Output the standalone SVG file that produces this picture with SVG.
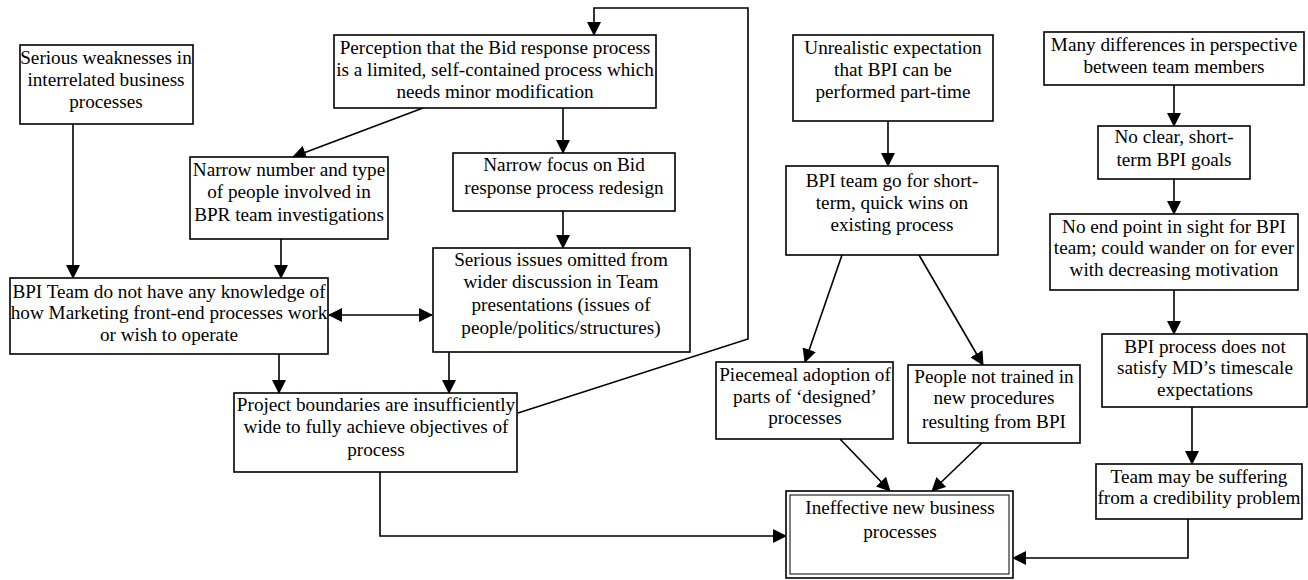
<svg xmlns="http://www.w3.org/2000/svg" width="1308" height="580" viewBox="0 0 1308 580">
  <style>
    .box { fill: #ffffff; stroke: #000000; stroke-width: 1.6; }
    .thin { fill: none; stroke: #000000; stroke-width: 1; }
    .lbl { font-family: "Liberation Serif", "Times New Roman", serif; font-size: 19.2px; fill: #000000; text-anchor: middle; }
    .edge { fill: none; stroke: #000000; stroke-width: 1.6; }
  </style>
  <defs>
    <marker id="arrow" viewBox="0 0 14 14" refX="13" refY="7" markerWidth="14" markerHeight="14" markerUnits="userSpaceOnUse" orient="auto-start-reverse">
      <path d="M0,0 L14,7 L0,14 Z" fill="#000000"/>
    </marker>
  </defs>
  <rect width="1308" height="580" fill="#ffffff"/>

  <!-- connectors -->
  <g id="connectors">
    <line class="edge" x1="73" y1="124" x2="73" y2="278" marker-end="url(#arrow)"/>
    <line class="edge" x1="423" y1="108" x2="293" y2="157" marker-end="url(#arrow)"/>
    <line class="edge" x1="563" y1="108" x2="563" y2="153" marker-end="url(#arrow)"/>
    <line class="edge" x1="281" y1="239" x2="281" y2="278" marker-end="url(#arrow)"/>
    <line class="edge" x1="563" y1="211" x2="563" y2="248" marker-end="url(#arrow)"/>
    <line class="edge" x1="329" y1="315" x2="432" y2="315" marker-start="url(#arrow)" marker-end="url(#arrow)"/>
    <line class="edge" x1="279" y1="354" x2="279" y2="393" marker-end="url(#arrow)"/>
    <line class="edge" x1="449" y1="352" x2="449" y2="393" marker-end="url(#arrow)"/>
    <polyline class="edge" points="518,413 748,339 748,8 594,8 594,35" marker-end="url(#arrow)"/>
    <polyline class="edge" points="380,472 380,536 786,536" marker-end="url(#arrow)"/>
    <line class="edge" x1="888" y1="121" x2="888" y2="166" marker-end="url(#arrow)"/>
    <line class="edge" x1="842" y1="255" x2="805" y2="362" marker-end="url(#arrow)"/>
    <line class="edge" x1="919" y1="255" x2="983" y2="365" marker-end="url(#arrow)"/>
    <line class="edge" x1="840" y1="439" x2="890" y2="491" marker-end="url(#arrow)"/>
    <line class="edge" x1="982" y1="443" x2="932" y2="491" marker-end="url(#arrow)"/>
    <line class="edge" x1="1174" y1="85" x2="1174" y2="126" marker-end="url(#arrow)"/>
    <line class="edge" x1="1174" y1="179" x2="1174" y2="214" marker-end="url(#arrow)"/>
    <line class="edge" x1="1174" y1="290" x2="1174" y2="334" marker-end="url(#arrow)"/>
    <line class="edge" x1="1192" y1="407" x2="1192" y2="464" marker-end="url(#arrow)"/>
    <polyline class="edge" points="1188,519 1188,558 1013,558" marker-end="url(#arrow)"/>
  </g>

  <!-- nodes -->
  <g id="serious-weaknesses">
    <rect class="box" x="20" y="45" width="173" height="79"/>
    <text class="lbl" x="106" y="64">Serious weaknesses in</text>
    <text class="lbl" x="106" y="86">interrelated business</text>
    <text class="lbl" x="106" y="108">processes</text>
  </g>

  <g id="perception">
    <rect class="box" x="334" y="35" width="322" height="73"/>
    <text class="lbl" x="495" y="54">Perception that the Bid response process</text>
    <text class="lbl" x="495" y="76">is a limited, self-contained process which</text>
    <text class="lbl" x="495" y="98">needs minor modification</text>
  </g>

  <g id="narrow-number">
    <rect class="box" x="190" y="157" width="198" height="82"/>
    <text class="lbl" x="289" y="176">Narrow number and type</text>
    <text class="lbl" x="289" y="198">of people involved in</text>
    <text class="lbl" x="289" y="221">BPR team investigations</text>
  </g>

  <g id="narrow-focus">
    <rect class="box" x="453" y="153" width="222" height="58"/>
    <text class="lbl" x="564" y="171">Narrow focus on Bid</text>
    <text class="lbl" x="564" y="194">response process redesign</text>
  </g>

  <g id="bpi-knowledge">
    <rect class="box" x="10" y="278" width="318" height="76"/>
    <text class="lbl" x="169" y="298">BPI Team do not have any knowledge of</text>
    <text class="lbl" x="169" y="319">how Marketing front-end processes work</text>
    <text class="lbl" x="169" y="341">or wish to operate</text>
  </g>

  <g id="serious-issues">
    <rect class="box" x="433" y="248" width="257" height="104"/>
    <text class="lbl" x="561" y="266">Serious issues omitted from</text>
    <text class="lbl" x="561" y="288">wider discussion in Team</text>
    <text class="lbl" x="561" y="311">presentations (issues of</text>
    <text class="lbl" x="561" y="334">people/politics/structures)</text>
  </g>

  <g id="project-boundaries">
    <rect class="box" x="234" y="393" width="283" height="79"/>
    <text class="lbl" x="376" y="411">Project boundaries are insufficiently</text>
    <text class="lbl" x="376" y="433">wide to fully achieve objectives of</text>
    <text class="lbl" x="376" y="456">process</text>
  </g>

  <g id="unrealistic">
    <rect class="box" x="793" y="35" width="200" height="86"/>
    <text class="lbl" x="893" y="54">Unrealistic expectation</text>
    <text class="lbl" x="893" y="76">that BPI can be</text>
    <text class="lbl" x="893" y="98">performed part-time</text>
  </g>

  <g id="quick-wins">
    <rect class="box" x="786" y="166" width="212" height="89"/>
    <text class="lbl" x="892" y="187">BPI team go for short-</text>
    <text class="lbl" x="892" y="209">term, quick wins on</text>
    <text class="lbl" x="892" y="231">existing process</text>
  </g>

  <g id="piecemeal">
    <rect class="box" x="716" y="362" width="177" height="77"/>
    <text class="lbl" x="805" y="381">Piecemeal adoption of</text>
    <text class="lbl" x="805" y="403">parts of ‘designed’</text>
    <text class="lbl" x="805" y="424">processes</text>
  </g>

  <g id="not-trained">
    <rect class="box" x="908" y="365" width="172" height="78"/>
    <text class="lbl" x="994" y="383">People not trained in</text>
    <text class="lbl" x="994" y="404">new procedures</text>
    <text class="lbl" x="994" y="428">resulting from BPI</text>
  </g>

  <g id="ineffective">
    <rect class="box" x="786" y="491" width="227" height="87" stroke-width="2"/>
    <rect class="thin" x="790" y="495" width="219" height="79"/>
    <text class="lbl" x="900" y="514">Ineffective new business</text>
    <text class="lbl" x="900" y="538">processes</text>
  </g>

  <g id="differences">
    <rect class="box" x="1044" y="32" width="260" height="53"/>
    <text class="lbl" x="1174" y="51">Many differences in perspective</text>
    <text class="lbl" x="1174" y="73">between team members</text>
  </g>

  <g id="no-clear-goals">
    <rect class="box" x="1098" y="126" width="152" height="53"/>
    <text class="lbl" x="1174" y="143">No clear, short-</text>
    <text class="lbl" x="1174" y="166">term BPI goals</text>
  </g>

  <g id="no-end-point">
    <rect class="box" x="1050" y="214" width="248" height="76"/>
    <text class="lbl" x="1174" y="233">No end point in sight for BPI</text>
    <text class="lbl" x="1174" y="254">team; could wander on for ever</text>
    <text class="lbl" x="1174" y="276">with decreasing motivation</text>
  </g>

  <g id="timescale">
    <rect class="box" x="1102" y="334" width="205" height="73"/>
    <text class="lbl" x="1205" y="353">BPI process does not</text>
    <text class="lbl" x="1205" y="374">satisfy MD’s timescale</text>
    <text class="lbl" x="1205" y="396">expectations</text>
  </g>

  <g id="credibility">
    <rect class="box" x="1096" y="464" width="206" height="55"/>
    <text class="lbl" x="1199" y="483">Team may be suffering</text>
    <text class="lbl" x="1199" y="504">from a credibility problem</text>
  </g>
</svg>
